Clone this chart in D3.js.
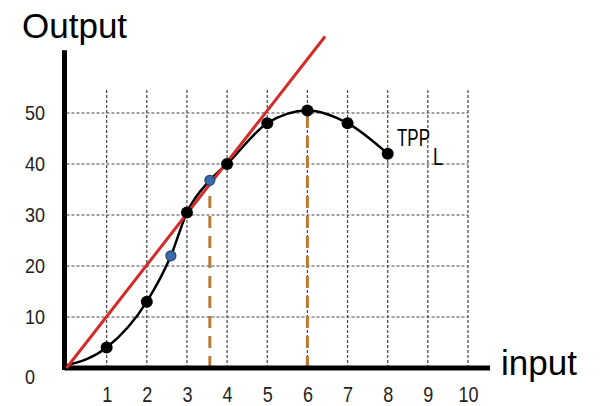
<!DOCTYPE html>
<html>
<head>
<meta charset="utf-8">
<title>TPP</title>
<script src="https://d3js.org/d3.v7.min.js"></script>
<style>
    body { margin: 0; background: #fff; }
    .tick text { font-family: "Liberation Sans Narrow", "Liberation Sans", Arial, sans-serif; fill: #222; }
</style>
</head>
<body>
<div id="my_dataviz"></div>
<script>
    // data (the blue points sit on the curve too)
    var inputs = [0, 1, 2, 2.6, 3, 3.57, 4, 5, 6, 7, 8];
    var outputs = [0.5, 4, 13, 22, 30.5, 36.8, 40, 48, 50.5, 48, 42];
    var dotInputs = [1, 2, 3, 4, 5, 6, 7, 8];
    var dotOutputs = [4, 13, 30.5, 40, 48, 50.5, 48, 42];
    var blueInputs = [2.6, 3.57];
    var blueOutputs = [22, 36.8];
    var rayX = [0, 6.44];
    var rayY = [0, 65];
    var dropX = [3.57, 6];
    var dropY = [35, 50.5];
    var xTicks = [1, 2, 3, 4, 5, 6, 7, 8, 9, 10];
    var yTicks = [0, 10, 20, 30, 40, 50];

    var width = 600, height = 406;

    var svg = d3.select("#my_dataviz")
        .append("svg")
        .attr("width", width)
        .attr("height", height);

    var x = d3.scaleLinear().domain([0, 10]).range([66.5, 468]);
    var y = d3.scaleLinear().domain([0, 50]).range([368, 113]);

    // dotted grid
    var grid = svg.append("g")
        .attr("stroke", "#444")
        .attr("stroke-width", 1.2)
        .attr("stroke-dasharray", "3,2");
    grid.selectAll("vline")
        .data(xTicks)
        .enter()
        .append("line")
        .attr("x1", function (d) { return x(d); })
        .attr("x2", function (d) { return x(d); })
        .attr("y1", y(0))
        .attr("y2", y(54.5));
    grid.selectAll("hline")
        .data(yTicks.slice(1))
        .enter()
        .append("line")
        .attr("x1", x(0))
        .attr("x2", x(10))
        .attr("y1", function (d) { return y(d); })
        .attr("y2", function (d) { return y(d); });

    // tick labels
    svg.append("g")
        .attr("transform", "translate(0,386)")
        .call(d3.axisBottom(x).tickValues(xTicks).tickSize(0).tickPadding(0))
        .call(function (g) { g.select(".domain").remove(); })
        .call(function (g) { g.selectAll("text").style("font-size", "22px").attr("transform", "scale(0.82,1)"); });
    svg.append("g")
        .attr("transform", "translate(46,0)")
        .call(d3.axisLeft(y).tickValues(yTicks).tickSize(0).tickPadding(0))
        .call(function (g) { g.select(".domain").remove(); })
        .call(function (g) {
            g.selectAll("text").style("font-size", "20px").attr("text-anchor", "start")
                .attr("x", -21 / 0.9).attr("transform", "scale(0.9,1)");
        })
        .call(function (g) { g.selectAll(".tick").filter(function (d) { return d == 0; }).select("text").attr("dy", "0.75em"); });

    // brown dashed drop lines
    svg.append("g")
        .selectAll("line")
        .data(dropX)
        .enter()
        .append("line")
        .attr("x1", function (d) { return x(d); })
        .attr("x2", function (d) { return x(d); })
        .attr("y1", y(0))
        .attr("y2", function (d, i) { return y(dropY[i]); })
        .attr("stroke", "#b87a35")
        .attr("stroke-width", 3)
        .attr("stroke-dasharray", "12,8");

    // axes
    svg.append("line")
        .attr("x1", x(-0.05)).attr("x2", x(10.55))
        .attr("y1", y(0)).attr("y2", y(0))
        .attr("stroke", "#000").attr("stroke-width", 5);
    svg.append("line")
        .attr("x1", x(-0.05)).attr("x2", x(-0.05))
        .attr("y1", y(0) + 2).attr("y2", y(62.3))
        .attr("stroke", "#000").attr("stroke-width", 5);

    // TPP curve
    var line = d3.line()
        .x(function (d) { return x(d[0]); })
        .y(function (d) { return y(d[1]); })
        .curve(d3.curveMonotoneX);
    svg.append("path")
        .datum(d3.zip(inputs, outputs))
        .attr("d", line)
        .attr("fill", "none")
        .attr("stroke", "#000")
        .attr("stroke-width", 2.5);

    // red ray from origin
    svg.append("path")
        .datum(d3.zip(rayX, rayY))
        .attr("d", d3.line().x(function (d) { return x(d[0]); }).y(function (d) { return y(d[1]); }))
        .attr("stroke", "#d42a2a")
        .attr("stroke-width", 3);

    // black dots
    svg.append("g")
        .selectAll("circle")
        .data(dotInputs)
        .enter()
        .append("circle")
        .attr("cx", function (d) { return x(d); })
        .attr("cy", function (d, i) { return y(dotOutputs[i]); })
        .attr("r", 6)
        .attr("fill", "#000");

    // blue dots
    svg.append("g")
        .selectAll("circle")
        .data(blueInputs)
        .enter()
        .append("circle")
        .attr("cx", function (d) { return x(d); })
        .attr("cy", function (d, i) { return y(blueOutputs[i]); })
        .attr("r", 5)
        .attr("fill", "#3a6aa8")
        .attr("stroke", "#2a4670")
        .attr("stroke-width", 1.2);

    // labels
    svg.append("text")
        .attr("x", 22).attr("y", 38)
        .style("font-family", "Liberation Sans, Arial, sans-serif")
        .style("font-size", "35px")
        .text("Output");
    svg.append("text")
        .attr("x", 501).attr("y", 375)
        .style("font-family", "Liberation Sans, Arial, sans-serif")
        .style("font-size", "35px")
        .text("input");
    svg.append("text")
        .attr("x", 397).attr("y", 146)
        .attr("textLength", 33)
        .attr("lengthAdjust", "spacingAndGlyphs")
        .style("font-family", "Liberation Sans, Arial, sans-serif")
        .style("font-size", "24px")
        .text("TPP");
    svg.append("text")
        .attr("x", 433).attr("y", 165)
        .attr("textLength", 10)
        .attr("lengthAdjust", "spacingAndGlyphs")
        .style("font-family", "Liberation Sans, Arial, sans-serif")
        .style("font-size", "24px")
        .text("L");
</script>
</body>
</html>
